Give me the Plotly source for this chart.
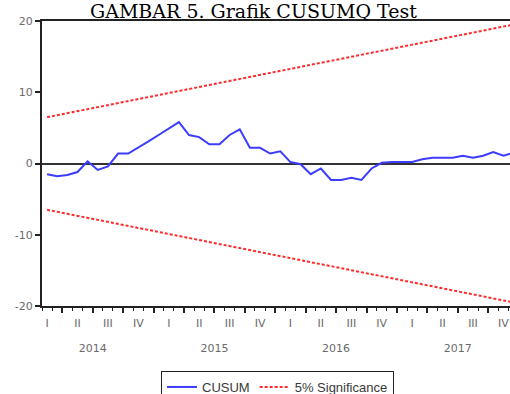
import pandas as pd
import plotly.graph_objects as go

# ---------------- data ----------------
periods = [str(p) for p in pd.period_range("2014-02", "2017-12", freq="M")]
cusum = [
    -1.5, -1.8, -1.6, -1.2, 0.3, -0.9, -0.4, 1.4, 1.4, 2.2, 3.1,          # 2014 Feb-Dec
    4.0, 4.9, 5.8, 4.0, 3.7, 2.7, 2.7, 4.0, 4.8, 2.2, 2.2, 1.4,           # 2015
    1.7, 0.2, -0.1, -1.5, -0.7, -2.3, -2.3, -2.0, -2.3, -0.7, 0.1, 0.2,   # 2016
    0.2, 0.2, 0.6, 0.8, 0.8, 0.8, 1.1, 0.8, 1.1, 1.6, 1.1, 1.5,           # 2017
]
bound_periods = ["2014-02", "2017-12"]
upper_bound = [6.5, 19.5]
lower_bound = [-6.5, -19.5]

quarter_labels = ["I", "II", "III", "IV"]
year_labels = ["2014", "2015", "2016", "2017"]
y_ticks = [-20, -10, 0, 10, 20]
y_tick_text = ["-20", "-10", "0", "10", "20"]
title_text = "GAMBAR 5. Grafik CUSUMQ Test"


def month_pos(p):
    """Centre of the month's interval on a month-index axis (Jan 2014 starts at 0)."""
    y, m = p.split("-")
    return (int(y) - 2014) * 12 + int(m) - 1 + 0.5


x_cusum = [month_pos(p) for p in periods]
x_bound = [month_pos(p) for p in bound_periods]

quarter_pos = [yi * 12 + qi * 3 + 1.5 for yi in range(len(year_labels)) for qi in range(4)]
quarter_text = [q for _ in year_labels for q in quarter_labels]
year_pos = [yi * 12 + 6 for yi in range(len(year_labels))]

BLUE = "#3c3cff"
RED = "#ff2b2b"
TICKFONT = dict(family="DejaVu Sans", size=11, color="#6a6a6a")
XRANGE = [1, 47.15]

fig = go.Figure()
fig.add_trace(go.Scatter(x=x_cusum, y=cusum, mode="lines", name="CUSUM",
                         line=dict(color=BLUE, width=2)))
fig.add_trace(go.Scatter(x=x_bound, y=upper_bound, mode="lines", name="5% Significance",
                         line=dict(color=RED, width=2, dash="3px,2px")))
fig.add_trace(go.Scatter(x=x_bound, y=lower_bound, mode="lines", name="5% Significance",
                         showlegend=False, line=dict(color=RED, width=2, dash="3px,2px")))
# invisible traces to activate the label axes
fig.add_trace(go.Scatter(x=[quarter_pos[0]], y=[0], xaxis="x2", mode="markers",
                         marker=dict(opacity=0), showlegend=False, hoverinfo="skip"))
fig.add_trace(go.Scatter(x=[year_pos[0]], y=[0], xaxis="x3", mode="markers",
                         marker=dict(opacity=0), showlegend=False, hoverinfo="skip"))

fig.update_layout(
    width=510, height=394,
    margin=dict(l=42, r=0, t=21, b=88, autoexpand=False),
    paper_bgcolor="white", plot_bgcolor="white",
    showlegend=True,
    legend=dict(orientation="h", xref="container", yref="container",
                x=161 / 510, y=1 - 371 / 394, xanchor="left", yanchor="top",
                bordercolor="#222", borderwidth=1, bgcolor="white",
                font=dict(family="Liberation Sans", size=13, color="#3a3a3a")),
    xaxis=dict(range=XRANGE, tickmode="linear", tick0=0, dtick=3, automargin=False,
               ticks="outside", ticklen=5, tickwidth=2, tickcolor="#222",
               showticklabels=False, showgrid=False, zeroline=False,
               showline=True, linecolor="#222", linewidth=2, mirror=True,
               minor=dict(dtick=1, tick0=0, ticks="outside", ticklen=3,
                          tickwidth=1, tickcolor="#222", showgrid=False)),
    xaxis2=dict(range=XRANGE, overlaying="x", anchor="y", side="bottom", automargin=False,
                tickmode="array", tickvals=quarter_pos, ticktext=quarter_text,
                ticks="", showline=False, showgrid=False, zeroline=False,
                tickfont=TICKFONT, ticklabelstandoff=9),
    xaxis3=dict(range=XRANGE, overlaying="x", anchor="y", side="bottom", automargin=False,
                tickmode="array", tickvals=year_pos, ticktext=year_labels,
                ticks="", showline=False, showgrid=False, zeroline=False,
                tickfont=TICKFONT, ticklabelstandoff=34),
    yaxis=dict(range=[-20, 20], tickmode="array", tickvals=y_ticks, ticktext=y_tick_text,
               automargin=False,
               ticks="outside", ticklen=5, tickwidth=2, tickcolor="#222",
               tickfont=TICKFONT, showgrid=False,
               showline=True, linecolor="#222", linewidth=2, mirror=False,
               zeroline=True, zerolinecolor="#333", zerolinewidth=2),
)

fig.add_annotation(text=title_text, xref="paper", yref="paper",
                   x=(253 - 42) / 468, y=1, xanchor="center", yanchor="bottom",
                   yshift=-3, showarrow=False,
                   font=dict(family="DejaVu Serif", size=19, color="black"))

fig.write_html("out.html")
